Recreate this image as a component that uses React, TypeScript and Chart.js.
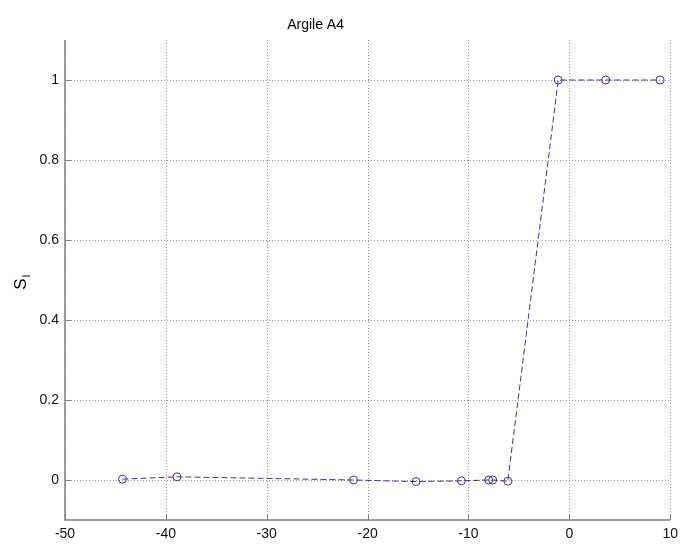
import React, { useEffect, useRef } from "react";
import { Chart, registerables } from "chart.js";

Chart.register(...registerables);

const xValues = [-44.3, -38.9, -21.4, -15.2, -10.7, -8.0, -7.6, -6.1, -1.1, 3.6, 9.0];
const yValues = [0.002, 0.008, 0.0, -0.004, -0.002, 0.0, 0.0, -0.003, 1.0, 1.0, 1.0];
const xTicks = [-50, -40, -30, -20, -10, 0, 10];
const yTicks = [0, 0.2, 0.4, 0.6, 0.8, 1];
const titleText = "Argile A4";
const yLabelMain = "S";
const yLabelSub = "l";

const FONT = "'Liberation Sans', Arial, Helvetica, sans-serif";
const AXIS_COLOR = "#7f7f7f";
const LINE_COLOR = "#3535a5";

export default function App() {
  const ref = useRef<HTMLCanvasElement | null>(null);

  useEffect(() => {
    if (!ref.current) return;

    const decor = {
      id: "decor",
      beforeDatasetsDraw(chart: any) {
        const { ctx, chartArea } = chart;
        const xs = chart.scales.x;
        const ys = chart.scales.y;
        ctx.save();
        ctx.strokeStyle = "#9a9a9a";
        ctx.lineWidth = 1;
        ctx.setLineDash([1, 2]);
        for (const v of xTicks) {
          const px = Math.round(xs.getPixelForValue(v)) + 0.5;
          ctx.beginPath();
          ctx.moveTo(px, chartArea.top);
          ctx.lineTo(px, chartArea.bottom);
          ctx.stroke();
        }
        for (const v of yTicks) {
          const py = Math.round(ys.getPixelForValue(v)) + 0.5;
          ctx.beginPath();
          ctx.moveTo(chartArea.left, py);
          ctx.lineTo(chartArea.right, py);
          ctx.stroke();
        }
        ctx.setLineDash([]);
        ctx.strokeStyle = AXIS_COLOR;
        ctx.lineWidth = 1.5;
        ctx.beginPath();
        ctx.moveTo(chartArea.left, chartArea.top);
        ctx.lineTo(chartArea.left, chartArea.bottom);
        ctx.lineTo(chartArea.right, chartArea.bottom);
        ctx.stroke();
        ctx.lineWidth = 1;
        for (const v of xTicks) {
          const px = Math.round(xs.getPixelForValue(v)) + 0.5;
          ctx.beginPath();
          ctx.moveTo(px, chartArea.bottom);
          ctx.lineTo(px, chartArea.bottom - 6);
          ctx.stroke();
        }
        for (const v of yTicks) {
          const py = Math.round(ys.getPixelForValue(v)) + 0.5;
          ctx.beginPath();
          ctx.moveTo(chartArea.left, py);
          ctx.lineTo(chartArea.left + 6, py);
          ctx.stroke();
        }
        ctx.restore();
      },
      afterDraw(chart: any) {
        const { ctx, chartArea } = chart;
        ctx.save();
        ctx.fillStyle = "#000";
        ctx.font = `14px ${FONT}`;
        ctx.textAlign = "center";
        ctx.textBaseline = "middle";
        const tx = chartArea.left + (chartArea.right - chartArea.left) * 0.414;
        ctx.fillText(titleText, tx, 25);
        ctx.translate(26, 282);
        ctx.rotate(-Math.PI / 2);
        ctx.textAlign = "left";
        ctx.textBaseline = "alphabetic";
        ctx.font = `17px ${FONT}`;
        const w = ctx.measureText(yLabelMain).width;
        ctx.fillText(yLabelMain, -w / 2 - 2, 0);
        ctx.font = `11px ${FONT}`;
        ctx.fillText(yLabelSub, w / 2 - 1, 4);
        ctx.restore();
      },
    };

    const chart = new Chart(ref.current, {
      type: "line",
      data: {
        datasets: [
          {
            data: xValues.map((x, i) => ({ x, y: yValues[i] })),
            borderColor: LINE_COLOR,
            backgroundColor: "rgba(0,0,0,0)",
            borderWidth: 1,
            borderDash: [6, 3],
            pointRadius: 4,
            pointBorderWidth: 1,
            pointBorderColor: LINE_COLOR,
            pointBackgroundColor: "rgba(0,0,0,0)",
            tension: 0,
            fill: false,
          },
        ],
      },
      options: {
        responsive: false,
        animation: false,
        layout: { padding: { top: 40, right: 11, left: 0, bottom: 0 } },
        plugins: {
          legend: { display: false },
          tooltip: { enabled: false },
          title: { display: false },
        },
        scales: {
          x: {
            type: "linear",
            min: -50,
            max: 10,
            afterBuildTicks: (s: any) => {
              s.ticks = xTicks.map((v) => ({ value: v }));
            },
            afterFit: (s: any) => {
              s.height = 27;
            },
            grid: { display: false, drawTicks: false },
            border: { display: false },
            ticks: {
              color: "#111",
              font: { family: FONT, size: 14 },
              padding: 6,
              maxRotation: 0,
              autoSkip: false,
            },
          },
          y: {
            type: "linear",
            min: -0.1,
            max: 1.1,
            afterBuildTicks: (s: any) => {
              s.ticks = yTicks.map((v) => ({ value: v }));
            },
            afterFit: (s: any) => {
              s.width = 65;
            },
            grid: { display: false, drawTicks: false },
            border: { display: false },
            ticks: {
              color: "#111",
              font: { family: FONT, size: 14 },
              padding: 6,
              autoSkip: false,
              callback: (v: any) => String(Math.round(Number(v) * 10) / 10),
            },
          },
        },
      },
      plugins: [decor],
    });
    return () => chart.destroy();
  }, []);

  return (
    <div style={{ position: "absolute", left: 0, top: 0, width: 684, height: 547, background: "#fff" }}>
      <canvas ref={ref} width={684} height={547} style={{ display: "block" }} />
    </div>
  );
}
